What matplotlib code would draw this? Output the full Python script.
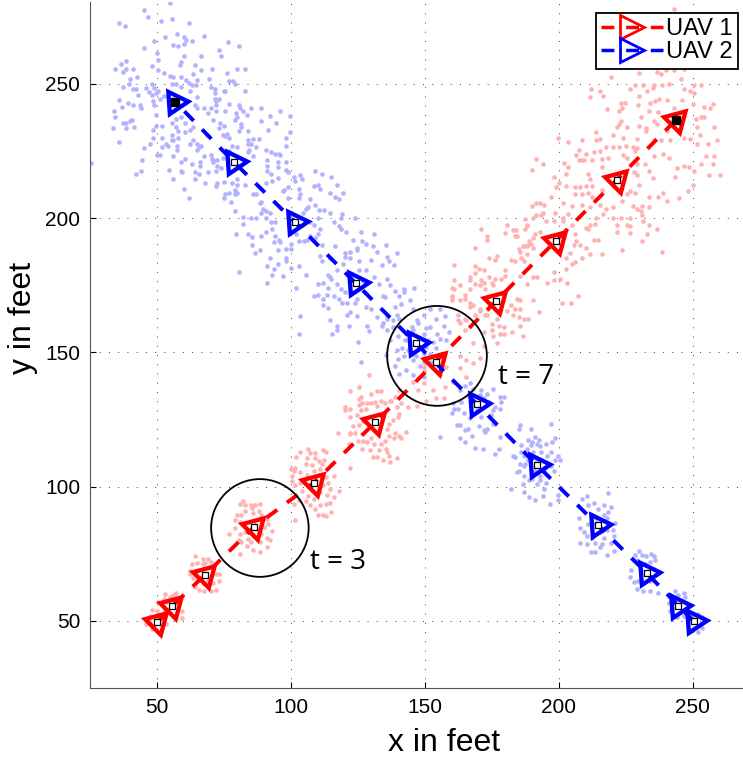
import matplotlib
matplotlib.use("Agg")
import matplotlib.pyplot as plt
from matplotlib.lines import Line2D
from matplotlib.patches import Circle

# waypoints, in feet
uav1_x = [50.1, 55.7, 68, 86.1, 108.6, 131.5, 154, 176.5, 198.9, 221.5, 243.7]
uav1_y = [49.4, 55.6, 67.2, 84.9, 101.5, 124, 146.5, 169.1, 191.6, 214.2, 236.6]
uav2_x = [250.4, 244.5, 232.7, 214.4, 191.7, 169.3, 146.6, 124.1, 101.5, 78.8, 56.7]
uav2_y = [49.8, 55.7, 67.9, 85.8, 108.1, 130.8, 153.4, 175.8, 198.5, 220.8, 243.4]

# particles, feet
uav2_dots_top = [(55,280),(45,277.5),(46.5,275),(51.5,273.5),(55.5,274),(62,272.5),(36,272.5),(38,271.5),(49,266),(53,267.5),(57.5,268.5),(60,267.5),(61,266.5),(63,266),(67.5,268),(76.5,265.5),(80.5,264),(73,262.5),(74,260.5),(66.5,260.5),(45,263.5),(56,264.5),(58,264),(60,265),(50,261.5),(60,260.5),(50.5,259),(38.5,258.5),(36.5,257.5),(34.5,255.5),(38.5,255.5),(41,255.5),(37.5,254.5),(48,256.5),(50.5,255),(52.5,254),(58.5,257),(59,258),(64,257),(66.5,255),(70.5,255.5),(76,254),(80,255.5),(83,255.5),(42.5,252.5),(40,252),(55,253),(56,252.5),(59,252.5),(63.5,253.5),(69.5,252),(65,251.5),(61,251.5),(62,250.5),(63,249.5),(37.5,249),(39.5,250),(48,250),(55.5,250),(57,250),(59,249),(64.5,249.5),(77,251),(78.5,251),(79,250),(70,249),(71.5,248),(71.5,246.5),(41,248),(42,248),(46,248.5),(49,248.5),(50.5,247.5),(47,247),(49.5,246.5),(75,247.5),(75.5,247.5),(83,247.5),(43,246),(48,246),(52.5,245.5),(62.5,247.5),(65,245),
    (36,244),(39,243),(41,242),(43.5,242),(44,241),(37,241.5),(34,240),(34.5,237.5),(48.5,243.5),(51,244.5),(49,242),(71.5,244.5),(73,244.5),(72,243.5),(77,242.5),(80.5,242),(81,241),(82,240),(89,241),(85,241),(67.5,241),(70,241),(72,242),(75.5,240),(72,240),(65,241),(64,242),(96,240),(99.5,238),(92,238),(94.5,235.5),(69,239),(79.5,239),(80,237.5),(83.5,238.5),(79,236.5),(81.5,235),(89,236),
    (40.5,236.5),(37.5,235.5),(38.5,235.5),(40,236),(33.5,233.5),(38.5,233.5),(41.5,234),(49.5,238.5),(55.5,235.5),(59,237.5),(57,237),(52,234.5),(49.5,234.5),(48.5,233),(60.5,235.5),(62.5,233),(63.5,234),(60.5,232),(71,236.5),(73.5,235.5),(75,234.5),(73,233.5),(68.5,231),(74.5,231),(76,231.5),(75.5,230.5),(77,230),(84,232.5),(91.5,233),(81.5,234),(80.5,232.5),(57,234),(58,232.5),
    (48.5,230),(52,230),(55.5,231),(56,229),(58,230),(55.5,229),(36,228.5),(47.5,227.5),(45,226),(52,226.5),(53.5,227.5),(54,227),(57.5,227),(57.5,225.5),(62.5,227.5),(63.5,229),(65,227.5),(66.5,227),(65,225.5),(65.5,226.5),(98,230),(99.5,232),(98,227),(84,227.5),(85,227.5),(87,226.5),(88,229.5),(86,229.5),(78,227),(80,226.5),(84.5,225.5),(77,225),(84,229),(90.5,225.5),(92.5,224.5),(94,224),(95.5,224),(96,223.5),
    (50,223.5),(51,223.5),(56,223),(44.5,221.5),(60.5,222),(59,221),(63,220),(66,221),(66,219.5),(67.5,223),(70,223.5),(70.5,222),(71,221),(72.5,221.5),(74.5,222.5),(72.5,219.5),(71,221.5),(69,217),(72,217.5),(74,218.5),(91,221.5),(91,219.5),(95,221),(98,221),(86,223),(84,224.5),(25.5,220.5),(54.5,218),(44,217.5),(42,216.5),(59,217.5),(59.5,217),(64,217),(65.5,216.5),(64,214.5),(56,214.5),(60,211),(68,213),(62,207.5),(91,217.5),(95,219),(99,217),(98,218),(92.5,216.5),(90.5,213),(93,214),(95,215),(72.5,213),(72,212),(75,213.5),(78,213),(80,212.5),(83,212.5),(80,214.5),(75.5,209),(75,207.5),(79,210.5),(80,209.5),(86,209),(87,209),(79,209),(77,209.5),(97,210),(99,211.5),(97.5,210.5),(99,207.5)]
uav2_dots_mid = [(77.5,206),(79,202.5),(82,200.5),(82,198),(79.5,194),(84,194),(85.5,193),(85.5,190),(86.5,187),(88.5,188),(87,200),(85,200),(89,206),(88.5,205.5),(89.5,203.5),(89,202),(90.5,202.5),(92,202),(90.5,200),(92.5,198.5),(94,198.5),(90.5,195),(89,193.5),(93,196),(94,193.5),(93.5,191),(95.5,192),(96,191),(95,188),(98,188.5),(100,190.5),(100,188.5),(92,185),(98,185),(98,184),(93.5,181),(91,182),(95,183),(100,181.5),(103,182),(93,179),(97,178.5),(91,176),(80.5,180),
    (101.5,214),(104,214.5),(103.5,216),(101,215.5),(103,211),(103.5,209),(103,207.5),(107,207),(106.5,204),(105.5,203.5),(104.5,202),(108.5,212),(110,212.5),(111,211),(115,215.5),(111.5,216.5),(109,217.5),(114.5,209.5),(117,212.5),(119.5,209.5),(116.5,208),(118,207),(109,205),(110.5,203),(112.5,203),(114.5,202),(119,201.5),(118.5,200),(116,198.5),(124,200),(126,195),(131,194),(120.5,195),(118,197),(118.5,196),(110,200),(108.5,197.5),(107,198.5),(104,197.5),(102,194),(103,191.5),(105,191.5),(106,192),(107,193.5),(110,194),(111,196),(109,192.5),(111.5,190),(116.5,189.5),(120,187),(122,187.5),(124.5,189),(124.5,188),(126.5,191.5),(128,190.5),(123,192),(130.5,189.5),(135.5,190),(132,187.5),(136,185.5),(136.5,184),(139.5,187),(134,182.5),(138.5,182.5),(130,184.5),(125.5,184),(122,185),(120,185.5),(111,186),(111.5,184),(114.5,185),(119.5,183),(117,180.5),(114,179),(114.5,178),(112,176),(110,175.5),(105.5,179),(115,177.5),(117,175.5),(114,174),(118.5,173.5),(120,172.5),(102,174),(108.5,171),(110,171.5),(112,170),(113.5,171.5),(116,171),(118,170),(119,168.5),(121,168.5),(124.5,170),(124,168.5),(128,172),(127,176.5),(128,180.5),(125.5,180.5),(131,178),(133,175.5),(136,177.5),(137,175),(139,173),(142,173.5),(146,174),(134.5,171),(135,170.5),(112,167.5),(114,166.5),(114.5,162),(117,160),(117,158.5),(121,164),(122,165),(124.5,163.5),(121.5,160),(115.5,157),(103.5,163.5),(103,157),(125,154),(126,146.5),(128.5,160),(129,158),(128,167),(130,166),(132,163),(134,160),(136,162.5),(138,162),(139.5,164),(141,168),
    (140.5,171),(142,172.5),(144.5,169.5),(145.5,166),(140.5,162.5),(138,159.5),(136,158.5),(140,156),(137,154.5),(134.5,161),(139.5,151),(135.5,149),(142,148.5),(139,145),(143,143.5),(141.5,151.5),(145.5,147),(148,145),(150.5,159),(149.5,157),(152,159.5),(154,162.5),(157,160),(159,157.5),(155.5,155),(153,154),(150.5,152),(149.5,149.5),(152,149.5),(158,154.5),(154,151.5),(147.5,161),(147,162),(145,159.5),(143,157.5),(145.5,158.5),(142.5,154.5),(143.5,151),(146.5,148.5),(149.5,146.5),(152,146.5),(145,149.5),(140,147.5),(154.5,157),(151,154.5),(140.5,142),(145.5,141.5),(149.5,141),(155.5,166),(152,166),(149.5,164),(157.5,163.5),(136,163.5),(139,167)]
uav2_dots_low = [(163,136),(165,137.5),(167,138.5),(168,136.5),(171,136),(173,134.5),(175.5,136.5),(178,133.5),(179.5,133.5),(178.5,131.5),(178,129),(176,129.5),(174,131.5),(172,133),(170.5,134),(166,134),(163.5,131.5),(162.5,129),(161,129),(160,127.5),(164.5,127.5),(167,125.5),(171,126),(175.5,128.5),(162,123),(163,123),(165,121),(166,121.5),(167.5,119),(170,122.5),(172,121),(173,121.5),(172.5,120.5),(175.5,123.5),(176,123.5),(163,118),(165,116.5),(168.5,114.5),(171.5,114),(176,112),(177.5,114),(178,118.5),(155.5,118.5),(169.5,128.5),(160.5,131),(174.5,126.5),
    (185.5,123),(185,121.5),(189.5,121.5),(191,118.5),(188.5,117.5),(190,116.5),(192,116),(192.5,117.5),(189.5,115.5),(193,115),(195,116),(197.5,116.5),(198.5,118),(197,123.5),(186,115.5),(183,111.5),(183.5,111),(186,113),(187,111.5),(185.5,108.5),(184.5,105.5),(185,106),(187,107.5),(187,104),(186.5,101),(189,102.5),(192,101),(194.5,99),(193,102.5),(195.5,104.5),(194.5,106),(197,107.5),(198.5,110),(200.5,110),(199.5,111.5),(197,113),(195.5,111.5),(193.5,113),(190.5,113),(188,114),(188.5,110),(187.5,108.5),(190,104.5),(191,106),(193,104),(182,99),(187,98),(189,96),(191,95),(194,96.5),(196.5,93.5),(199.5,97),(199.5,95),(192,110),(190,103),(195,101.5),(198,106),
    (210.5,96.5),(208.5,95.5),(218.5,97.5),(213,94),(211,93),(217,93),(219.5,92.5),(218.5,90.5),(214.5,91.5),(207.5,88.5),(208,84.5),(209.5,83),(210.5,81.5),(208,79),(210.5,78.5),(213.5,79),(216,78.5),(217,81),(219.5,79),(220.5,81.5),(221,86.5),(218,88.5),(217,89.5),(212,75.5),(213.5,75.5),(218,74.5),(220.5,76),(215.5,77.5),(212.5,81),(211,86),(218,84),(220,84),(214,88.5),(215.5,83),
    (230,76),(228.5,74.5),(231,74.5),(232.5,74),(234.5,75),(235.5,74),(236,72.5),(229,72.5),(234,72),(227,69),(226.5,66.5),(228,64.5),(229,62),(231.5,61),(234,61),(237,60.5),(230.5,69),(235.5,69.5),(229.5,65),(231.5,64),(234,65),(236,67),(232,71),
    (243.5,61),(246.5,60.5),(244.5,59.5),(247,59),(241.5,59.5),(241,56.5),(241.5,53.5),(247,53.5),(246.5,52),(242.5,57.5),(247.5,56.5),(244,51.5),
    (249.5,52),(252,52.5),(253.5,51.5),(248.5,50),(249,46.5),(253.5,47.5),(250.5,47.5),(252,46)]

uav1_dots_top = [(243,278),(238,270),(248,272),(232,265),(227,262),(252,262),(258,265),(245,263),(235,262),(251,268),(240,261),
    (236.5,254.5),(238,253.5),(230,254),(219.5,252.5),(240,255),(243,255),(246.5,255.5),(245.5,252),(253,249.5),(250.5,249.5),(249,247.5),(250.5,246.5),(246.5,248),(241,250),(238.5,249.5),(235.5,249.5),(235,248.5),(231.5,249.5),(228.5,249.5),(226.5,248),(233,247.5),(230,245.5),(215.5,247.5),(212,248),(211.5,245),(216.5,245.5),(223,243),(224.5,243),(229.5,242),(234,243),(236,243.5),(237.5,244.5),(240.5,244),(243,241),(246,244),(250,242.5),(254,241.5),(257.5,242.5),(256.5,241),(218,240.5),(222.5,240),(223.5,241),(237,239.5),(230.5,237.5),(233.5,240),(223,236),(222.5,235),(225.5,234),(230,234.5),(232.5,233.5),(232.5,232.5),(221.5,234),(235.5,236),(236.5,235),(240.5,232.5),(251,237),(253,237.5),(254,237.5),(251.5,234),(258,234),(252.5,231),(259,229),(255.5,227.5),(251.5,227.5),(249,229.5),(246.5,230),(241.5,229),(238,229),(235.5,229),(229,229.5),(224,230),(220,231),(214,232),(215.5,229.5),(214,229),(208.5,229),(203.5,228.5),(199.5,230),
    (207.5,225.5),(206.5,223.5),(210,224),(213,224.5),(215.5,225),(217.5,226.5),(220,226.5),(222.5,226.5),(225,227),(227.5,226.5),(229,226),(228.5,225),(224,223.5),(225.5,222.5),(218.5,222.5),(216,222),(212.5,221.5),(208.5,221.5),(209.5,221.5),(207.5,221.5),(202,220.5),(191.5,222),(194,220),(190,218),(203.5,219),(198,215.5),(202.5,216.5),(200,213),(211,216.5),(211.5,214.5),(216,219),(229,220),(232,220),(235.5,223),(239,224),(241,222.5),(244,218.5),(246.5,219.5),(248.5,219),(250.5,217.5),(253,220),(255,223),(258,223),(257.5,220),(256,216),(260,216),(243.5,215.5),(235,215),(229,216),(228,217),(233.5,217.5),(230,212.5),(226.5,210),(228.5,209.5),(225.5,209),(206,211.5),(208,211.5),(210,212),(212.5,212),(202.5,212),(199,211.5),(197,208),(206,209),(208.5,209),(211,209.5),(212.5,208),(216,210.5),(233.5,208),(237,208),(239,209.5),(240.5,206.5),(245,207.5),(250,212.5),(248,210),
    (201.5,205.5),(205,204.5),(198.5,202),(194.5,205),(193,205.5),(191.5,205.5),(190,204.5),(194,202),(193.5,201),(191.5,201),(190.5,200),(187.5,199.5),(195,199),(198,199),(201.5,200),(203.5,201.5),(208.5,205),(211.5,204),(215.5,205),(217.5,203.5),(220,204),(223.5,206.5),(227.5,204.5),(231,204.5),(230.5,202.5),(229,203.5),(231,201),(233.5,204),(231.5,199),(233.5,197.5),(226.5,200),(223,200),(220,200),(216.5,201.5),(214,200),(213.5,198),(211.5,197.5),(210,196.5),(221.5,197.5),(225.5,197.5),(226.5,197),(221.5,195),(226.5,194.5),(233,194),(236.5,196),(188,197),(191,194),(189,191.5),(186.5,189.5),(188,189.5),(190.5,192.5),(193,195),(201.5,199),(205,197.5),(206,194),(206.5,191.5),(205.5,190),(208,190),(211,196),(214.5,192),(213,192),(210,189),(211.5,186.5),(216,186.5),(208.5,185),(223.5,188),(231,191.5),(238.5,187.5),(188,186.5),(186,185),(190.5,189),(202.5,185),(204,187)]
uav1_dots_mid = [(171,196),(173,193.5),(173,192),(168.5,189),(180.5,197.5),(180,194.5),(183,195.5),(184,195.5),(183.5,193.5),(184.5,193.5),(188,197.5),(187.5,196),(189.5,190.5),(187,189.5),(188.5,190),(185,188.5),(185.5,187.5),(182,184.5),(183.5,184),(187,184),(177,186),(174,185),(176,184.5),(161,182.5),(168.5,182),(170,181),(172,180.5),(168.5,179.5),(174,178),(167,178),(167,177),(161,177),(163,175),(160,174),(161,173.5),(160,170.5),(160,169.5),(171,177),(172,176),(175,176),(170.5,175),(172.5,173.5),(175.5,175),(176,177.5),(180,180.5),(180,178.5),(178.5,177.5),(185.5,178.5),(188,175.5),(192,178),(195.5,176),(198,177),(200.5,177.5),(205,183),(206,183.5),(203,176),(202.5,181),(198,180),(190.5,178),(167,173.5),(168.5,175.5),(163,169.5),(165,170),(167,168.5),(168,167.5),(168.5,164),(170.5,165.5),(172.5,164),(173.5,166),(175,168),(177,162.5),(180.5,165.5),(184.5,170),(185.5,169.5),(182,167.5),(183.5,166),(185.5,166),(183,164),(185,163),(187,162.5),(188.5,162.5),(192.5,165),(190.5,169.5),(185.5,160),(182.5,157.5),(186.5,156),(179.5,159.5),(175,158.5),(178,157),(175,160.5),(163,161),(165,162.5),(201,168.5),(204.5,168.5),(207,171),(162.5,162),
    (160,171),(165,171.5),(167,167),(170.5,166),(162.5,164),(165.5,162),(173,164),(177.5,160),(179.5,157),(175.5,156),(172,157.5),(165,158.5),(168,153.5),(172,152.5),(177,153.5),(163,148.5),(165.5,147),(170.5,148),(163,144),(168,146),(165.5,141),(160.5,139),(157.5,137),(153,136),(149.5,138.5),(145.5,139),(147.5,136),(154,133),(150.5,132),(157,133),(140.5,136),(137.5,132),(139.5,129.5),(147,130),(149.5,143),(149.5,144.5),(158,144.5),(155.5,142),(134.5,126.5),(140.5,127)]
uav1_dots_low = [(129,141.5),(125.5,137),(122,135.5),(132,135.5),(133.5,135.5),(130,134.5),(126,133.5),(125.5,132.5),(125.5,130.5),(120,129.5),(120,128.5),(122,129),(126,128.5),(128.5,131),(130,131),(131.5,131.5),(133.5,132),(135,131),(137,132),(139,133.5),(143.5,129.5),(141,131),(140,126),(138,125),(136.5,123.5),(136,121.5),(139,120),(140.5,119),(143,120.5),(141,118),(138.5,118),(135,117),(136.5,119),(135.5,114),(136,113),(133,113.5),(129.5,113.5),(126.5,114),(130.5,111),(132,111),(134.5,110),(137,109),(139.5,110.5),(122,126),(123,122.5),(122,120),(117.5,120),(121.5,116),(124,120),(126.5,119.5),(127,117),(128.5,116.5),(130,118),(125.5,123),(127,124.5),(124.5,126.5),(131,116),(126.5,131),(128,129),(132,130),(122,119.5),(125,117),(133.5,116),(122,107),(136.5,111.5),
    (106.5,114),(103.5,113),(107,112.5),(109,112.5),(112,113.5),(113,113),(102,111),(106,110.5),(109,110.5),(110.5,109.5),(112.5,110),(111.5,108.5),(100,106.5),(101.5,107),(105.5,108.5),(108,108),(108.5,106),(111,106.5),(115.5,108.5),(116,104),(101,106),(100.5,104),(103.5,105.5),(100.5,102),(101.5,100.5),(103.5,101.5),(106,104.5),(113,103.5),(114,101.5),(114.5,99),(118,98.5),(116,96),(114.5,94),(113,93.5),(111,93),(109,91.5),(110,89.5),(112,89.5),(115,90.5),(113,89),(107,93),(105.5,94.5),(103,95),(101,93.5),(101.5,87.5),(104,98.5),(106.5,96.5),(111,98),(112,100.5),(113.5,97),(108.5,95.5),
    (82,94.5),(81,93.5),(83,93),(85,93),(86.5,93),(88.5,93.5),(85.5,92),(88,91),(83,91),(80,89.5),(81.5,89.5),(86,90),(89,89.5),(79,87.5),(81,87),(91,88),(91.5,86),(93,83.5),(77,82.5),(79,84.5),(81,82.5),(83,83),(89,82.5),(91,81),(92,80),(80.5,80),(81.5,79.5),(83.5,78),(85,79.5),(91,77.5),(81,75),(86,76.5),(88.5,75.5),(83,86.5),(88,83.5),(90,85),(86,82.5),(84,80.5),(88.5,79.5),
    (64,74),(67,73),(69,73),(70,72),(65,71.5),(63,71),(67,71),(71,70),(72,67.5),(73,67.5),(73,65),(71,64),(72,61.5),(70,61),(67.5,61),(65.5,61.5),(64,62.5),(65,65),(67,64),(69,65),(62.5,68.5),(63.5,66),(62.5,67.5),(68,71.5),
    (53,60),(57,60.5),(55,59),(52.5,58),(58,58),(50.5,57),(59.5,53.5),(59.5,51),(53,54),(52,52),(58,56),(53.5,57),(56,59.5),
    (48,54),(47.5,52),(50,53.5),(49.5,51),(47.5,49.5),(52.5,51),(46,49),(48,47),(52,47),(53.5,49),(51,45),(48.5,48),(50.5,51.5)]

uav1_dots = uav1_dots_top + uav1_dots_mid + uav1_dots_low
uav2_dots = uav2_dots_top + uav2_dots_mid + uav2_dots_low

circles = [(88.4, 84.6, 18.2), (154.5, 148.7, 18.6)]
ticks = [50, 100, 150, 200, 250]

fig = plt.figure(figsize=(7.43, 7.59), dpi=100)
ax = fig.add_axes([90 / 743, 71 / 759, 653 / 743, 686 / 759])

ax.scatter(*zip(*uav1_dots), s=11, color="#ffb2b2", linewidths=0, zorder=2)
ax.scatter(*zip(*uav2_dots), s=11, color="#b2b2ff", linewidths=0, zorder=2.1)

dash = (3.4, 3.1)
ax.plot(uav1_x, uav1_y, color="red", lw=2.8, dashes=dash, dash_capstyle="butt", zorder=3)
ax.plot(uav1_x, uav1_y, ls="none", marker=(3, 0, -45), ms=18.5, mew=3.1, mec="red", mfc="none", zorder=3.1)
ax.plot(uav2_x, uav2_y, color="blue", lw=2.8, dashes=dash, dash_capstyle="butt", zorder=3.2)
ax.plot(uav2_x, uav2_y, ls="none", marker=(3, 0, -86), ms=18.5, mew=3.1, mec="blue", mfc="none", zorder=3.3)

# estimate squares, last one is drawn solid in the original
ax.plot(uav1_x + uav2_x, uav1_y + uav2_y, ls="none", marker="s", ms=4, mew=0.9, mec="k", mfc="white", zorder=4)
ax.plot([uav1_x[-1], uav2_x[-1]], [uav1_y[-1], uav2_y[-1]], ls="none", marker="s", ms=6, mec="k", mfc="k", zorder=4)

for cx, cy, r in circles:
    ax.add_patch(Circle((cx, cy), r, fill=False, ec="k", lw=1.3, zorder=5))

ax.text(177.2, 138.3, "t = 7", family="Open Sans", fontsize=20, va="baseline")
ax.text(107.1, 69.4, "t = 3", family="Open Sans", fontsize=20, va="baseline")

ax.set_xlim(25, 268.7)
ax.set_ylim(25, 280.5)
ax.set_xticks(ticks)
ax.set_yticks(ticks)
ax.grid(True, color="#444444", lw=0.7, linestyle=(0, (1, 8.5)), zorder=1)
ax.set_axisbelow(True)
ax.spines["top"].set_visible(False)
ax.spines["right"].set_visible(False)
ax.spines["left"].set_color("#555555")
ax.spines["bottom"].set_color("#555555")
ax.tick_params(direction="in", length=4.5, width=0.8, labelsize=15, pad=7)
for lab in ax.get_xticklabels() + ax.get_yticklabels():
    lab.set_family("Liberation Sans")

ax.set_xlabel("x in feet", family="Liberation Sans", fontsize=23)
ax.set_ylabel("y in feet", family="Liberation Sans", fontsize=23)
ax.xaxis.set_label_coords(0.542, -0.059)
ax.yaxis.set_label_coords(-0.079, 0.539)

handles = [
    Line2D([], [], color="red", lw=2.5, dashes=(3.7, 3.4), dash_capstyle="butt", marker=">", ms=17, mew=2, mec="red", mfc="none"),
    Line2D([], [], color="blue", lw=2.5, dashes=(3.7, 3.4), dash_capstyle="butt", marker=">", ms=17, mew=2, mec="blue", mfc="none"),
]
leg = ax.legend(handles, ["UAV 1", "UAV 2"], loc="upper right", bbox_to_anchor=(738 / 743, 1 - 13 / 759),
                bbox_transform=fig.transFigure, borderaxespad=0, borderpad=0.22, labelspacing=0.05,
                handlelength=2.6, handletextpad=0.15, numpoints=1, fancybox=False, framealpha=1,
                edgecolor="k", prop={"family": "Liberation Sans", "size": 17})
leg.get_frame().set_linewidth(1.3)
leg.set_zorder(10)

fig.savefig("out.png", dpi=100)
